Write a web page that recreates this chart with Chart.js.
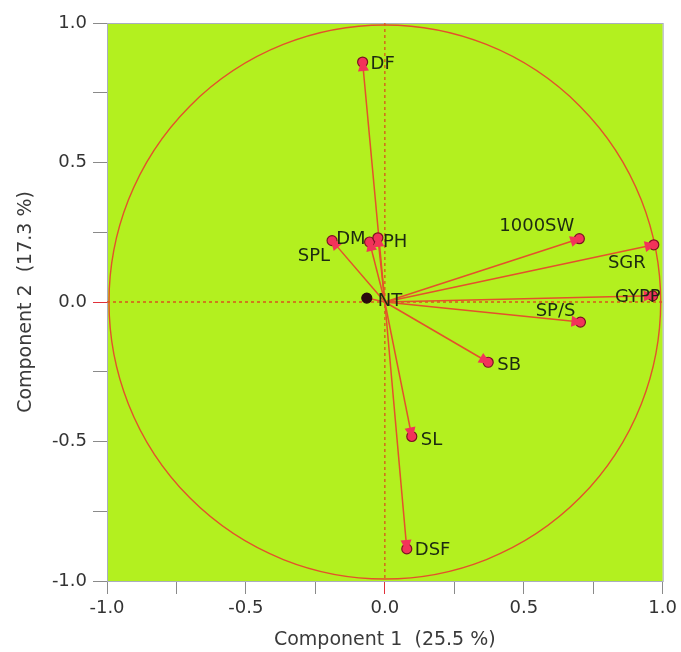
<!DOCTYPE html>
<html>
<head>
<meta charset="utf-8">
<title>Loading plot</title>
<script src="https://cdn.jsdelivr.net/npm/chart.js@4/dist/chart.umd.min.js"></script>
<style>
  html, body { margin: 0; padding: 0; background: #fff; }
  #wrap { width: 681px; height: 652px; }
</style>
</head>
<body>
<div id="wrap"><canvas id="chart-loading"></canvas></div>
<script>
// 變數名稱與載荷 (Component 1, Component 2)
const varNames = ['DF', 'SPL', 'DM', 'PH', 'NT', '1000SW', 'SGR', 'GYPP', 'SP/S', 'SB', 'SL', 'DSF'];
const comp1 = [-0.08, -0.19, -0.055, -0.025, -0.065, 0.70, 0.968, 0.964, 0.704, 0.372, 0.097, 0.079];
const comp2 = [0.86, 0.22, 0.215, 0.23, 0.014, 0.227, 0.205, 0.022, -0.072, -0.216, -0.482, -0.885];

// 軸刻度
const axisMin = -1;
const axisMax = 1;
const tickStep = 0.25;

// 標籤相對位置 [dx, dy, 對齊]
const labelOffsets = [
  [8, 2, 'left'], [-2, 16, 'right'], [-4, -3, 'right'], [5, 4, 'left'],
  [11, 3, 'left'], [-5, -12, 'right'], [-8, 19, 'right'], [8, 1, 'right'],
  [-5, -11, 'right'], [9, 3, 'left'], [9, 4, 'left'], [8, 1, 'left']
];

const LIME = '#b3f01f';
const RED_LINE = '#e4512b';
const HEAD = '#f2335a';
const FONT = '"DejaVu Sans", "Noto Sans", sans-serif';

const points = varNames.map((n, i) => ({ x: comp1[i], y: comp2[i] }));

// 向量太短（接近原點）就不畫箭頭
const isShort = (p) => Math.hypot(p.x, p.y) < 0.1;

// 背景、圓、虛線、箭頭、標籤
const biplotPlugin = {
  id: 'biplot',
  beforeDatasetsDraw(chart) {
    const { ctx, chartArea: a, scales: { x, y } } = chart;
    ctx.save();
    ctx.fillStyle = LIME;
    ctx.fillRect(a.left, a.top, a.right - a.left, a.bottom - a.top);
    ctx.strokeStyle = '#a9aebf';
    ctx.lineWidth = 1;
    ctx.strokeRect(a.left + 0.5, a.top + 0.5, a.right - a.left, a.bottom - a.top);

    const cx = x.getPixelForValue(0);
    const cy = y.getPixelForValue(0);
    // 零線（虛線）
    ctx.strokeStyle = '#d9561c';
    ctx.lineWidth = 1.3;
    ctx.setLineDash([3, 3]);
    ctx.beginPath();
    ctx.moveTo(cx, a.top); ctx.lineTo(cx, a.bottom);
    ctx.moveTo(a.left, cy); ctx.lineTo(a.right, cy);
    ctx.stroke();
    ctx.setLineDash([]);

    // 單位圓
    const rx = x.getPixelForValue(1) - cx;
    const ry = cy - y.getPixelForValue(1);
    ctx.strokeStyle = RED_LINE;
    ctx.lineWidth = 1.4;
    ctx.beginPath();
    ctx.ellipse(cx, cy, rx - 2, ry - 2, 0, 0, Math.PI * 2);
    ctx.stroke();

    // 向量線
    ctx.strokeStyle = RED_LINE;
    ctx.lineWidth = 1.5;
    points.forEach((p) => {
      ctx.beginPath();
      ctx.moveTo(cx, cy);
      ctx.lineTo(x.getPixelForValue(p.x), y.getPixelForValue(p.y));
      ctx.stroke();
    });
    ctx.restore();
  },
  afterDatasetsDraw(chart) {
    const { ctx, scales: { x, y } } = chart;
    const cx = x.getPixelForValue(0);
    const cy = y.getPixelForValue(0);
    ctx.save();
    points.forEach((p) => {
      if (isShort(p)) return;
      const px = x.getPixelForValue(p.x);
      const py = y.getPixelForValue(p.y);
      const len = Math.hypot(px - cx, py - cy);
      const ux = (px - cx) / len, uy = (py - cy) / len;
      const tipX = px + ux * 3, tipY = py + uy * 3;
      const bx = tipX - ux * 12, by = tipY - uy * 12;
      ctx.fillStyle = HEAD;
      ctx.beginPath();
      ctx.moveTo(tipX, tipY);
      ctx.lineTo(bx - uy * 5.5, by + ux * 5.5);
      ctx.lineTo(bx + uy * 5.5, by - ux * 5.5);
      ctx.closePath();
      ctx.fill();
    });

    ctx.font = '18px ' + FONT;
    ctx.fillStyle = '#1d2a12';
    ctx.textBaseline = 'middle';
    points.forEach((p, i) => {
      const [dx, dy, align] = labelOffsets[i];
      ctx.textAlign = align;
      ctx.fillText(varNames[i], x.getPixelForValue(p.x) + dx, y.getPixelForValue(p.y) + dy);
    });
    ctx.restore();
  }
};

const tickLabel = (v) => (Math.abs(v * 2 - Math.round(v * 2)) < 1e-9 ? v.toFixed(1) : '');
const tickColor = (c) => (c.tick && Math.abs(c.tick.value) < 1e-9 ? '#e0303a' : '#8a8a8a');
const dotFill = (c) => (c.raw && isShort(c.raw) ? '#2a0a0e' : HEAD);
const dotEdge = (c) => (c.raw && isShort(c.raw) ? '#2a0a0e' : '#7a1222');

new Chart(document.getElementById('chart-loading'), {
  type: 'scatter',
  data: {
    datasets: [{
      data: points,
      pointRadius: 5,
      pointHoverRadius: 5,
      backgroundColor: dotFill,
      borderColor: dotEdge,
      borderWidth: 1.2
    }]
  },
  options: {
    responsive: true,
    maintainAspectRatio: false,
    animation: false,
    layout: { padding: { top: 23, right: 16, left: 0, bottom: 0 } },
    plugins: { legend: { display: false }, tooltip: { enabled: false } },
    scales: {
      x: {
        type: 'linear',
        min: axisMin,
        max: axisMax,
        afterFit: (s) => { s.height = 71; },
        border: { display: false },
        grid: { drawOnChartArea: false, drawTicks: true, tickLength: 13, color: tickColor },
        ticks: {
          stepSize: tickStep, autoSkip: false, maxRotation: 0, padding: 4,
          color: '#333', font: { family: FONT, size: 18 }, callback: tickLabel
        },
        title: {
          display: true, text: 'Component 1  (25.5 %)', color: '#3a3a3a',
          font: { family: FONT, size: 19 }, padding: { top: 0, bottom: 1 }
        }
      },
      y: {
        type: 'linear',
        min: axisMin,
        max: axisMax,
        afterFit: (s) => { s.width = 107; },
        border: { display: false },
        grid: { drawOnChartArea: false, drawTicks: true, tickLength: 14, color: tickColor },
        ticks: {
          stepSize: tickStep, autoSkip: false, padding: 6,
          color: '#333', font: { family: FONT, size: 18 }, callback: tickLabel
        },
        title: {
          display: true, text: 'Component 2  (17.3 %)', color: '#3a3a3a',
          font: { family: FONT, size: 19 }, padding: { top: 15, bottom: 0 }
        }
      }
    }
  },
  plugins: [biplotPlugin]
});
</script>
</body>
</html>
